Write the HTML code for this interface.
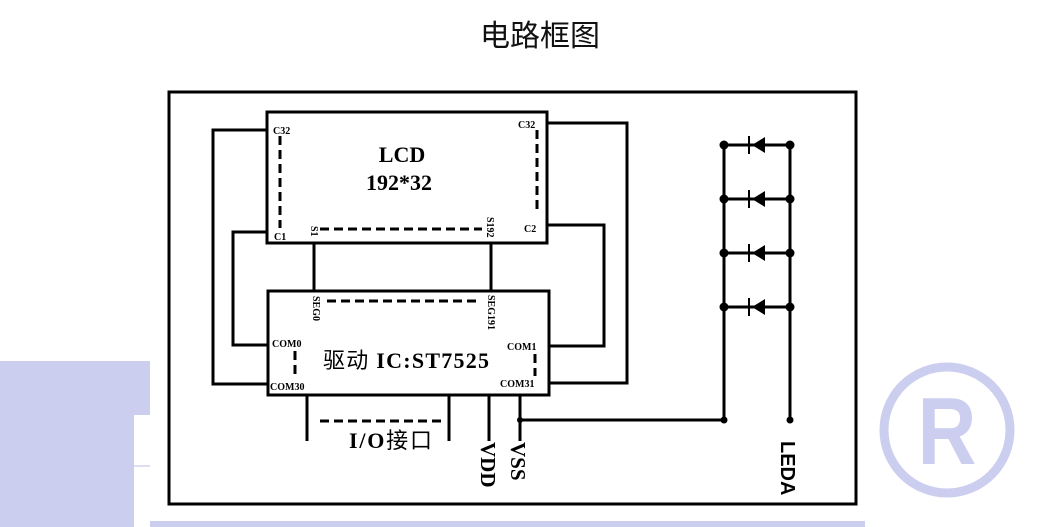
<!DOCTYPE html>
<html><head><meta charset="utf-8"><style>
html,body{margin:0;padding:0;background:#fff;width:1046px;height:527px;overflow:hidden}
</style></head><body>
<svg width="1046" height="527" viewBox="0 0 1046 527" xmlns="http://www.w3.org/2000/svg">
<g fill="#cccef0">
<rect x="0" y="361" width="150" height="54"/>
<rect x="0" y="415" width="134" height="112"/>
<rect x="150" y="521" width="715" height="6"/>
</g>
<rect x="134" y="465" width="16" height="2" fill="#dcdef4"/>
<circle cx="947" cy="430" r="63" fill="none" stroke="#cccef0" stroke-width="9"/>
<text x="947" y="464" text-anchor="middle" font-family="Liberation Sans, sans-serif" font-weight="bold" font-size="96" fill="#cccef0" transform="translate(947,0) scale(0.85,1) translate(-947,0)">R</text>

<text x="540" y="46" text-anchor="middle" font-family="Liberation Sans, 'Noto Sans CJK SC', sans-serif" font-size="30" fill="#111">电路框图</text>

<g fill="none" stroke="#000" stroke-width="3">
<rect x="169" y="92" width="687" height="412"/>
<rect x="267" y="112" width="280" height="131"/>
<rect x="268" y="291" width="281" height="104"/>
<polyline points="267,130 213,130 213,384 268,384"/>
<polyline points="267,232 233,232 233,345 268,345"/>
<polyline points="547,123 627,123 627,383 549,383"/>
<polyline points="547,225 604,225 604,346 549,346"/>
<line x1="314" y1="243" x2="314" y2="291"/>
<line x1="491" y1="243" x2="491" y2="291"/>
<line x1="307" y1="395" x2="307" y2="441"/>
<line x1="449" y1="395" x2="449" y2="441"/>
<line x1="489" y1="395" x2="489" y2="441"/>
<line x1="520" y1="395" x2="520" y2="441"/>
<polyline points="520,420 724,420 724,145 790,145 790,420"/>
<line x1="724" y1="199" x2="790" y2="199"/>
<line x1="724" y1="253" x2="790" y2="253"/>
<line x1="724" y1="307" x2="790" y2="307"/>
</g>
<g fill="none" stroke="#000" stroke-width="3" stroke-dasharray="9,5">
<line x1="280" y1="136" x2="280" y2="228"/>
<line x1="537" y1="130" x2="537" y2="214"/>
<line x1="320" y1="229" x2="482" y2="229"/>
<line x1="327" y1="301" x2="480" y2="301"/>
<line x1="295" y1="351" x2="295" y2="379"/>
<line x1="535" y1="354" x2="535" y2="376"/>
<line x1="320" y1="421" x2="443" y2="421"/>
</g>
<g fill="#000">
<circle cx="520" cy="420" r="3"/>
<circle cx="724" cy="420" r="3.5"/>
<circle cx="790" cy="420" r="3.5"/>
<g id="d">
<circle cx="724" cy="145" r="4.5"/><circle cx="790" cy="145" r="4.5"/>
<polygon points="752,145 765,137 765,153"/>
<rect x="748" y="136" width="2" height="18"/>
</g>
<use href="#d" y="54"/><use href="#d" y="108"/><use href="#d" y="162"/>
</g>
<g font-family="Liberation Serif, 'Noto Serif CJK SC', serif" font-weight="bold" fill="#000">
<text x="402" y="162" text-anchor="middle" font-size="22">LCD</text>
<text x="399" y="190" text-anchor="middle" font-size="22">192*32</text>
<text x="273" y="134" font-size="10">C32</text>
<text x="518" y="128" font-size="10">C32</text>
<text x="274" y="240" font-size="10">C1</text>
<text x="524" y="232" font-size="10">C2</text>
<text transform="translate(311,226) rotate(90)" font-size="10">S1</text>
<text transform="translate(487,217) rotate(90)" font-size="10">S192</text>
<text transform="translate(313,296) rotate(90)" font-size="10">SEG0</text>
<text transform="translate(488,295) rotate(90)" font-size="10">SEG191</text>
<text x="272" y="347" font-size="10">COM0</text>
<text x="270" y="390" font-size="10">COM30</text>
<text x="507" y="350" font-size="10">COM1</text>
<text x="500" y="387" font-size="10">COM31</text>
<text x="323" y="368" font-size="22" textLength="166"><tspan font-weight="normal" font-family="'Noto Sans CJK SC', sans-serif">驱动</tspan> IC:ST7525</text>
<text x="349" y="448" font-size="22" textLength="83"><tspan>I/O</tspan><tspan font-weight="normal" font-family="'Noto Sans CJK SC', sans-serif">接口</tspan></text>
<text transform="translate(481,442) rotate(90)" font-size="21">VDD</text>
<text transform="translate(511,442) rotate(90)" font-size="21">VSS</text>
</g>
<text transform="translate(781,441) rotate(90)" font-family="Liberation Sans, sans-serif" font-weight="bold" font-size="20" fill="#000">LEDA</text>
</svg>
</body></html>
